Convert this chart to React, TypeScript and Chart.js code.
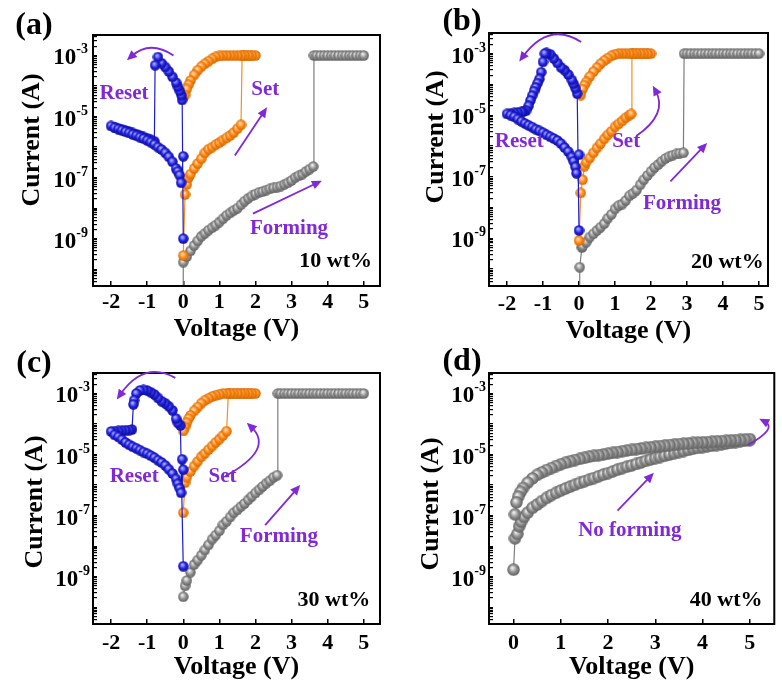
import React, { useEffect, useRef } from "react";
import { Chart, registerables } from "chart.js";

Chart.register(...registerables);

type Pt = [number, number];

// ================= DATA (voltage V, current A) =================
// ---- (a) 10 wt% ----
const aForming: Pt[] = [
  [0, 1e-12], [0, 1.7e-10], [0.1, 2.6e-10], [0.2, 4.0e-10], [0.3, 6.0e-10], [0.4, 8.5e-10], [0.5, 1.2e-9],
  [0.6, 1.5e-9], [0.7, 1.9e-9], [0.8, 2.3e-9], [0.9, 2.8e-9], [1.0, 3.5e-9], [1.1, 4.5e-9], [1.2, 5.8e-9],
  [1.3, 7.0e-9], [1.4, 8.5e-9], [1.5, 1.0e-8], [1.6, 1.3e-8], [1.7, 1.7e-8], [1.8, 2.1e-8], [1.9, 2.5e-8],
  [2.0, 2.9e-8], [2.1, 3.3e-8], [2.2, 3.5e-8], [2.3, 3.9e-8], [2.4, 4.3e-8], [2.5, 4.6e-8], [2.6, 4.9e-8],
  [2.7, 5.3e-8], [2.8, 6.0e-8], [2.9, 6.8e-8], [3.0, 8.0e-8], [3.1, 1.0e-7], [3.2, 1.15e-7], [3.3, 1.3e-7],
  [3.4, 1.6e-7], [3.5, 1.9e-7], [3.6, 2.3e-7],
  [3.62, 1e-3], [3.7, 1e-3], [3.8, 1e-3], [3.9, 1e-3], [4.0, 1e-3], [4.1, 1e-3], [4.2, 1e-3], [4.3, 1e-3],
  [4.4, 1e-3], [4.5, 1e-3], [4.6, 1e-3], [4.7, 1e-3], [4.8, 1e-3], [4.9, 1e-3], [5.0, 1e-3],
];
const aSet: Pt[] = [
  [0, 2.8e-10], [0.05, 2.8e-8], [0.1, 6e-8], [0.15, 1e-7], [0.2, 1.3e-7], [0.3, 2e-7], [0.4, 2.9e-7],
  [0.5, 4.2e-7], [0.6, 6.5e-7], [0.7, 8.5e-7], [0.8, 1.0e-6], [0.9, 1.2e-6], [1.0, 1.4e-6], [1.1, 1.7e-6],
  [1.2, 2.0e-6], [1.3, 2.4e-6], [1.4, 3.0e-6], [1.5, 4.0e-6], [1.6, 5.4e-6],
  [1.63, 1e-3], [1.7, 1e-3], [1.8, 1e-3], [1.9, 1e-3], [2.0, 1e-3],
  [1.9, 1e-3], [1.8, 1e-3], [1.7, 1e-3], [1.6, 1e-3], [1.5, 1e-3], [1.4, 1e-3], [1.3, 1e-3], [1.2, 1e-3],
  [1.1, 1e-3], [1.0, 9.6e-4], [0.9, 9e-4], [0.8, 7.8e-4], [0.7, 6.5e-4], [0.6, 5.4e-4], [0.5, 4.3e-4],
  [0.4, 3.3e-4], [0.3, 2.3e-4], [0.2, 1.5e-4], [0.15, 1.1e-4], [0.1, 8e-5], [0.05, 5e-5],
];
const aReset: Pt[] = [
  [0, 1e-9], [-0.03, 3.5e-5], [-0.05, 5e-5], [-0.1, 7e-5], [-0.15, 9.5e-5], [-0.2, 1.3e-4], [-0.3, 2e-4],
  [-0.4, 3e-4], [-0.5, 4.2e-4], [-0.6, 5.6e-4], [-0.7, 8.9e-4], [-0.78, 4.8e-4],
  [-0.8, 1.55e-6], [-0.9, 1.75e-6], [-1.0, 1.95e-6], [-1.1, 2.15e-6], [-1.2, 2.4e-6], [-1.3, 2.65e-6],
  [-1.4, 2.9e-6], [-1.5, 3.2e-6], [-1.6, 3.5e-6], [-1.7, 3.8e-6], [-1.8, 4.1e-6], [-1.9, 4.5e-6], [-2.0, 4.9e-6],
  [-1.9, 4.3e-6], [-1.8, 3.9e-6], [-1.7, 3.55e-6], [-1.6, 3.2e-6], [-1.5, 2.9e-6], [-1.4, 2.6e-6],
  [-1.3, 2.35e-6], [-1.2, 2.1e-6], [-1.1, 1.9e-6], [-1.0, 1.66e-6], [-0.9, 1.45e-6], [-0.8, 1.23e-6],
  [-0.7, 1.0e-6], [-0.6, 8.3e-7], [-0.5, 6.5e-7], [-0.4, 4.8e-7], [-0.3, 3.3e-7], [-0.2, 2.0e-7],
  [-0.15, 1.6e-7], [-0.1, 1.2e-7], [-0.06, 6.8e-8], [0, 5e-7],
];

// ---- (b) 20 wt% ----
const bForming: Pt[] = [
  [0, 1e-12], [0.02, 1.15e-10], [0.08, 5e-10], [0.1, 5.5e-10], [0.2, 7.5e-10], [0.3, 1.1e-9], [0.4, 1.4e-9],
  [0.5, 1.8e-9], [0.6, 2.3e-9], [0.7, 3.0e-9], [0.8, 4.5e-9], [0.9, 6e-9], [1.0, 9e-9], [1.1, 1.15e-8],
  [1.2, 1.3e-8], [1.3, 1.7e-8], [1.4, 2.4e-8], [1.5, 2.9e-8], [1.6, 3.7e-8], [1.7, 5.5e-8], [1.8, 8e-8],
  [1.9, 1.1e-7], [2.0, 1.5e-7], [2.1, 2e-7], [2.2, 2.5e-7], [2.3, 3.2e-7], [2.4, 3.9e-7], [2.5, 4.5e-7],
  [2.6, 5e-7], [2.7, 5.5e-7], [2.8, 5.8e-7], [2.9, 6e-7],
  [2.92, 1e-3], [3.0, 1e-3], [3.1, 1e-3], [3.2, 1e-3], [3.3, 1e-3], [3.4, 1e-3], [3.5, 1e-3], [3.6, 1e-3],
  [3.7, 1e-3], [3.8, 1e-3], [3.9, 1e-3], [4.0, 1e-3], [4.1, 1e-3], [4.2, 1e-3], [4.3, 1e-3], [4.4, 1e-3],
  [4.5, 1e-3], [4.6, 1e-3], [4.7, 1e-3], [4.8, 1e-3], [4.9, 1e-3], [5.0, 1e-3],
];
const bSet: Pt[] = [
  [0, 8.5e-10], [0.05, 3e-8], [0.1, 8e-8], [0.15, 2.2e-7], [0.2, 3e-7], [0.3, 4.1e-7], [0.4, 6e-7],
  [0.5, 8.7e-7], [0.6, 1.2e-6], [0.7, 1.7e-6], [0.8, 2.3e-6], [0.9, 3.0e-6], [1.0, 4.2e-6], [1.1, 5.2e-6],
  [1.2, 6.5e-6], [1.3, 8.3e-6], [1.4, 1.0e-5], [1.45, 1.1e-5],
  [1.47, 1e-3], [1.5, 1e-3], [1.6, 1e-3], [1.7, 1e-3], [1.8, 1e-3], [1.9, 1e-3], [2.0, 1e-3],
  [1.9, 1e-3], [1.8, 1e-3], [1.7, 1e-3], [1.6, 1e-3], [1.5, 1e-3], [1.4, 1e-3], [1.3, 1e-3], [1.2, 1e-3],
  [1.1, 1e-3], [1.0, 9.5e-4], [0.9, 8.5e-4], [0.8, 7.2e-4], [0.7, 5.9e-4], [0.6, 4.7e-4], [0.5, 3.5e-4],
  [0.4, 2.6e-4], [0.3, 1.8e-4], [0.2, 1.2e-4], [0.15, 9.5e-5], [0.1, 7e-5], [0.05, 4.5e-5],
];
const bReset: Pt[] = [
  [0, 1.8e-9], [-0.05, 5e-5], [-0.1, 7.6e-5], [-0.15, 1.05e-4], [-0.2, 1.4e-4], [-0.3, 2.1e-4],
  [-0.4, 2.9e-4], [-0.5, 3.6e-4], [-0.6, 5e-4], [-0.7, 7e-4], [-0.8, 9.5e-4], [-0.9, 1.05e-3], [-0.95, 1.0e-3],
  [-1.0, 5.4e-4], [-1.05, 2.5e-4], [-1.1, 1.5e-4], [-1.15, 1.1e-4], [-1.2, 8e-5], [-1.25, 6e-5],
  [-1.3, 4.3e-5], [-1.35, 3e-5], [-1.4, 2e-5], [-1.47, 1.4e-5],
  [-1.55, 1.3e-5], [-1.6, 1.27e-5], [-1.7, 1.22e-5], [-1.8, 1.18e-5], [-1.9, 1.14e-5], [-2.0, 1.1e-5],
  [-1.9, 1.0e-5], [-1.8, 8.9e-6], [-1.7, 7.5e-6], [-1.6, 6.3e-6], [-1.5, 5.4e-6], [-1.4, 4.7e-6],
  [-1.3, 4.1e-6], [-1.2, 3.5e-6], [-1.1, 3.1e-6], [-1.0, 2.7e-6], [-0.9, 2.3e-6], [-0.8, 2.0e-6],
  [-0.7, 1.75e-6], [-0.6, 1.5e-6], [-0.5, 1.2e-6], [-0.4, 8.9e-7], [-0.3, 6.6e-7], [-0.2, 4.4e-7],
  [-0.15, 3.2e-7], [-0.1, 2.1e-7], [-0.07, 1.3e-7], [0, 5.2e-7],
];

// ---- (c) 30 wt% ----
const cForming: Pt[] = [
  [0, 2.2e-10], [0.05, 5e-10], [0.1, 7.5e-10], [0.2, 1.4e-9], [0.3, 2.5e-9], [0.4, 3.5e-9], [0.5, 5e-9],
  [0.6, 7.5e-9], [0.7, 1.1e-8], [0.8, 1.7e-8], [0.9, 2.3e-8], [1.0, 3.2e-8], [1.1, 5e-8], [1.2, 6.5e-8],
  [1.3, 9e-8], [1.4, 1.25e-7], [1.5, 1.55e-7], [1.6, 2e-7], [1.7, 2.5e-7], [1.8, 3.3e-7], [1.9, 4.3e-7],
  [2.0, 5.5e-7], [2.1, 7e-7], [2.2, 9e-7], [2.3, 1.15e-6], [2.4, 1.4e-6], [2.5, 1.8e-6], [2.6, 2.1e-6],
  [2.62, 1e-3], [2.7, 1e-3], [2.8, 1e-3], [2.9, 1e-3], [3.0, 1e-3], [3.1, 1e-3], [3.2, 1e-3], [3.3, 1e-3],
  [3.4, 1e-3], [3.5, 1e-3], [3.6, 1e-3], [3.7, 1e-3], [3.8, 1e-3], [3.9, 1e-3], [4.0, 1e-3], [4.1, 1e-3],
  [4.2, 1e-3], [4.3, 1e-3], [4.4, 1e-3], [4.5, 1e-3], [4.6, 1e-3], [4.7, 1e-3], [4.8, 1e-3], [4.9, 1e-3],
  [5.0, 1e-3],
];
const cSet: Pt[] = [
  [0, 1.25e-7], [0.05, 1.2e-6], [0.1, 1.8e-6], [0.2, 2.8e-6], [0.3, 4.2e-6], [0.4, 6e-6], [0.5, 8.5e-6],
  [0.6, 1.1e-5], [0.7, 1.45e-5], [0.8, 1.9e-5], [0.9, 2.5e-5], [1.0, 3.2e-5], [1.1, 4.2e-5], [1.2, 5.8e-5],
  [1.25, 1e-3], [1.3, 1e-3], [1.4, 1e-3], [1.5, 1e-3], [1.6, 1e-3], [1.7, 1e-3], [1.8, 1e-3], [1.9, 1e-3],
  [2.0, 1e-3],
  [1.9, 1e-3], [1.8, 1e-3], [1.7, 1e-3], [1.6, 1e-3], [1.5, 1e-3], [1.4, 1e-3], [1.3, 1e-3], [1.2, 1e-3],
  [1.1, 1e-3], [1.0, 9.4e-4], [0.9, 8.7e-4], [0.8, 8e-4], [0.7, 7e-4], [0.6, 6e-4], [0.5, 4.8e-4],
  [0.4, 3.6e-4], [0.3, 2.7e-4], [0.2, 1.9e-4], [0.15, 1.5e-4], [0.1, 1.1e-4], [0.05, 8e-5], [0, 5.9e-5],
];
const cReset: Pt[] = [
  [0, 2.2e-9], [-0.08, 9e-5], [-0.15, 1.1e-4], [-0.2, 1.5e-4], [-0.3, 2.8e-4], [-0.4, 3.8e-4],
  [-0.5, 4.8e-4], [-0.6, 5.6e-4], [-0.7, 7.2e-4], [-0.8, 9.3e-4], [-0.9, 1.1e-3], [-1.0, 1.25e-3],
  [-1.1, 1.3e-3], [-1.2, 1.25e-3], [-1.3, 1e-3], [-1.36, 6e-4], [-1.38, 4.4e-4],
  [-1.42, 6.6e-5], [-1.5, 6.3e-5], [-1.6, 6.2e-5], [-1.7, 6e-5], [-1.8, 5.9e-5], [-1.9, 5.8e-5], [-2.0, 5.7e-5],
  [-1.9, 4.4e-5], [-1.8, 3.8e-5], [-1.7, 3.1e-5], [-1.6, 2.5e-5], [-1.5, 2.1e-5], [-1.4, 1.8e-5],
  [-1.3, 1.6e-5], [-1.2, 1.4e-5], [-1.1, 1.2e-5], [-1.0, 1.07e-5], [-0.9, 9.2e-6], [-0.8, 7.9e-6],
  [-0.7, 6.5e-6], [-0.6, 5.5e-6], [-0.5, 4.4e-6], [-0.4, 3.3e-6], [-0.3, 2.4e-6], [-0.2, 1.6e-6],
  [-0.15, 1.1e-6], [-0.1, 7.9e-7], [-0.06, 5.6e-7], [0, 3.2e-6], [-0.03, 7e-6],
];

// ---- (d) 40 wt% ----
const dSweep: Pt[] = [
  [0, 1.7e-9], [0.03, 1.8e-8], [0.08, 2.5e-8], [0.12, 4.5e-8], [0.16, 6.3e-8], [0.22, 9e-8], [0.3, 1.25e-7],
  [0.4, 1.8e-7], [0.5, 2.3e-7], [0.6, 3e-7], [0.7, 3.8e-7], [0.8, 4.7e-7], [0.9, 5.6e-7], [1.0, 6.6e-7],
  [1.1, 7.7e-7], [1.2, 8.9e-7], [1.3, 1.02e-6], [1.4, 1.17e-6], [1.5, 1.33e-6], [1.6, 1.5e-6], [1.7, 1.7e-6],
  [1.8, 1.95e-6], [1.9, 2.2e-6], [2.0, 2.45e-6], [2.1, 2.8e-6], [2.2, 3.2e-6], [2.3, 3.6e-6], [2.4, 4.0e-6],
  [2.5, 4.4e-6], [2.6, 4.9e-6], [2.7, 5.5e-6], [2.8, 6.2e-6], [2.9, 6.9e-6], [3.0, 7.6e-6], [3.1, 8.3e-6],
  [3.2, 9.1e-6], [3.3, 1.0e-5], [3.4, 1.1e-5], [3.5, 1.2e-5], [3.6, 1.3e-5], [3.7, 1.42e-5], [3.8, 1.55e-5],
  [3.9, 1.65e-5], [4.0, 1.75e-5], [4.1, 1.85e-5], [4.2, 1.95e-5], [4.3, 2.05e-5], [4.4, 2.15e-5],
  [4.5, 2.3e-5], [4.6, 2.4e-5], [4.7, 2.55e-5], [4.8, 2.7e-5], [4.9, 2.85e-5], [5.0, 2.95e-5],
  [5.0, 3.2e-5], [4.9, 3.1e-5], [4.8, 3.0e-5], [4.7, 2.95e-5], [4.6, 2.9e-5], [4.5, 2.8e-5], [4.4, 2.75e-5],
  [4.3, 2.7e-5], [4.2, 2.6e-5], [4.1, 2.55e-5], [4.0, 2.5e-5], [3.9, 2.45e-5], [3.8, 2.4e-5], [3.7, 2.3e-5],
  [3.6, 2.25e-5], [3.5, 2.2e-5], [3.4, 2.1e-5], [3.3, 2.05e-5], [3.2, 1.95e-5], [3.1, 1.9e-5], [3.0, 1.8e-5],
  [2.9, 1.72e-5], [2.8, 1.65e-5], [2.7, 1.58e-5], [2.6, 1.5e-5], [2.5, 1.42e-5], [2.4, 1.35e-5],
  [2.3, 1.28e-5], [2.2, 1.2e-5], [2.1, 1.13e-5], [2.0, 1.07e-5], [1.9, 1.0e-5], [1.8, 9.5e-6], [1.7, 9e-6],
  [1.6, 8.5e-6], [1.5, 7.8e-6], [1.4, 7.2e-6], [1.3, 6.6e-6], [1.2, 6e-6], [1.1, 5.4e-6], [1.0, 4.8e-6],
  [0.9, 4.2e-6], [0.8, 3.6e-6], [0.7, 3.1e-6], [0.6, 2.6e-6], [0.5, 2.15e-6], [0.4, 1.65e-6], [0.3, 1.2e-6],
  [0.2, 8e-7], [0.15, 6e-7], [0.1, 4.2e-7], [0.06, 2.7e-7], [0.03, 1.1e-7],
];

// ---- axes / labels ----
const xTicksFull = [-2, -1, 0, 1, 2, 3, 4, 5];
const xTicksPositive = [0, 1, 2, 3, 4, 5];
const yLabelExponents = [-3, -5, -7, -9];
const panelLetters = ["(a)", "(b)", "(c)", "(d)"];
const concentrations = ["10 wt%", "20 wt%", "30 wt%", "40 wt%"];
const xTitle = "Voltage (V)";
const yTitle = "Current (A)";

// ================= STYLE / LAYOUT =================
const FONT = "'Liberation Serif', 'Times New Roman', Times, serif";
const PURPLE = "#8128d9";
const Y_MIN = Math.pow(10, -10.55);
const Y_MAX = Math.pow(10, -2.33);

type Kind = "blue" | "orange" | "gray";
const STYLE: Record<Kind, { base: string; light: string; dark: string; line: string }> = {
  blue: { base: "#2222e6", light: "#b0b0ff", dark: "#0a0a90", line: "#1c1cd0" },
  orange: { base: "#ff8a14", light: "#ffdcb4", dark: "#d26400", line: "#f29020" },
  gray: { base: "#8e8e8e", light: "#efefef", dark: "#5c5c5c", line: "#7d7d7d" },
};

interface Arrow { from: Pt; via?: Pt; to: Pt }
interface PanelDef {
  letter: string;
  wt: string;
  wtAt: Pt;
  series: { pts: Pt[]; kind: Kind }[];
  xMin: number;
  xMax: number;
  xTicks: number[];
  box: { left: number; top: number; w: number; h: number };
  area: { left: number; top: number; right: number; bottom: number };
  xTickPad: number;
  xTitlePad: number;
  yLabelRight: number;
  letterPos: Pt;
  yTitlePos: Pt;
  marker: number;
  texts: { text: string; at: Pt }[];
  arrows: Arrow[];
}

const panels: PanelDef[] = [
  {
    letter: panelLetters[0], wt: concentrations[0], wtAt: [5.23, -9.75],
    series: [{ pts: aReset, kind: "blue" }, { pts: aSet, kind: "orange" }, { pts: aForming, kind: "gray" }],
    xMin: -2.5, xMax: 5.45, xTicks: xTicksFull,
    box: { left: 0, top: 0, w: 391, h: 352 },
    area: { left: 93, top: 35, right: 380, bottom: 286 },
    xTickPad: 8, xTitlePad: 7, yLabelRight: 88,
    letterPos: [34, 26], yTitlePos: [32, 140], marker: 11,
    texts: [
      { text: "Reset", at: [-1.64, -4.25] },
      { text: "Set", at: [2.27, -4.11] },
      { text: "Forming", at: [2.93, -8.67] },
    ],
    arrows: [
      { from: [-0.27, -3.0], via: [-0.92, -2.78], to: [-1.56, -3.16] },
      { from: [1.43, -6.28], to: [2.32, -4.7] },
      { from: [1.93, -8.18], to: [3.84, -7.1] },
    ],
  },
  {
    letter: panelLetters[1], wt: concentrations[1], wtAt: [5.13, -9.77],
    series: [{ pts: bReset, kind: "blue" }, { pts: bSet, kind: "orange" }, { pts: bForming, kind: "gray" }],
    xMin: -2.5, xMax: 5.25, xTicks: xTicksFull,
    box: { left: 391, top: 0, w: 391, h: 352 },
    area: { left: 98, top: 33, right: 377, bottom: 286 },
    xTickPad: 10, xTitlePad: 5, yLabelRight: 95,
    letterPos: [71, 22], yTitlePos: [45, 137], marker: 11,
    texts: [
      { text: "Reset", at: [-1.66, -5.87] },
      { text: "Set", at: [1.31, -5.87] },
      { text: "Forming", at: [2.86, -7.87] },
    ],
    arrows: [
      { from: [0.06, -2.62], via: [-0.82, -2.44], to: [-1.66, -3.26] },
      { from: [1.59, -5.68], via: [2.15, -4.91], to: [2.05, -4.04] },
      { from: [2.54, -7.15], to: [3.56, -5.9] },
    ],
  },
  {
    letter: panelLetters[2], wt: concentrations[2], wtAt: [5.18, -9.76],
    series: [{ pts: cReset, kind: "blue" }, { pts: cSet, kind: "orange" }, { pts: cForming, kind: "gray" }],
    xMin: -2.5, xMax: 5.45, xTicks: xTicksFull,
    box: { left: 0, top: 344, w: 391, h: 344 },
    area: { left: 93, top: 29, right: 380, bottom: 280 },
    xTickPad: 11, xTitlePad: 5, yLabelRight: 90,
    letterPos: [34, 20], yTitlePos: [35, 158], marker: 11,
    texts: [
      { text: "Reset", at: [-1.36, -5.73] },
      { text: "Set", at: [1.09, -5.73] },
      { text: "Forming", at: [2.65, -7.7] },
    ],
    arrows: [
      { from: [-0.22, -2.49], via: [-1.06, -2.38], to: [-1.84, -3.2] },
      { from: [1.16, -5.71], via: [2.0, -4.83], to: [1.76, -3.96] },
      { from: [2.27, -7.31], to: [3.24, -6.0] },
    ],
  },
  {
    letter: panelLetters[3], wt: concentrations[3], wtAt: [5.27, -9.79],
    series: [{ pts: dSweep, kind: "gray" }],
    xMin: -0.52, xMax: 5.52, xTicks: xTicksPositive,
    box: { left: 391, top: 344, w: 391, h: 344 },
    area: { left: 98, top: 29, right: 387, bottom: 280 },
    xTickPad: 11, xTitlePad: 5, yLabelRight: 95,
    letterPos: [71, 18], yTitlePos: [40, 160], marker: 13,
    texts: [{ text: "No forming", at: [2.46, -7.48] }],
    arrows: [
      { from: [2.2, -6.84], to: [2.97, -5.6] },
      { from: [4.96, -4.69], via: [5.34, -4.2], to: [5.2, -3.83] },
    ],
  },
];

function makeSphere(kind: Kind, d: number): HTMLCanvasElement {
  const c = document.createElement("canvas");
  c.width = d;
  c.height = d;
  const g = c.getContext("2d")!;
  const r = d / 2;
  const s = STYLE[kind];
  const grad = g.createRadialGradient(r * 0.8, r * 0.7, r * 0.08, r, r, r);
  grad.addColorStop(0, s.light);
  grad.addColorStop(0.55, s.base);
  grad.addColorStop(1, s.dark);
  g.fillStyle = grad;
  g.beginPath();
  g.arc(r, r, r - 0.3, 0, Math.PI * 2);
  g.fill();
  return c;
}

function drawArrow(ctx: CanvasRenderingContext2D, P: (p: Pt) => { x: number; y: number }, a: Arrow) {
  const s = P(a.from);
  const e = P(a.to);
  ctx.save();
  ctx.strokeStyle = PURPLE;
  ctx.fillStyle = PURPLE;
  ctx.lineWidth = 1.8;
  let ang: number;
  const L = 10;
  ctx.beginPath();
  ctx.moveTo(s.x, s.y);
  if (a.via) {
    const m = P(a.via);
    const cx = 2 * m.x - (s.x + e.x) / 2;
    const cy = 2 * m.y - (s.y + e.y) / 2;
    ang = Math.atan2(e.y - cy, e.x - cx);
    const ex = e.x - Math.cos(ang) * L * 0.6;
    const ey = e.y - Math.sin(ang) * L * 0.6;
    ctx.quadraticCurveTo(cx, cy, ex, ey);
  } else {
    ang = Math.atan2(e.y - s.y, e.x - s.x);
    ctx.lineTo(e.x - Math.cos(ang) * L * 0.6, e.y - Math.sin(ang) * L * 0.6);
  }
  ctx.stroke();
  const W = 4.5;
  const bx = e.x - Math.cos(ang) * L;
  const by = e.y - Math.sin(ang) * L;
  ctx.beginPath();
  ctx.moveTo(e.x, e.y);
  ctx.lineTo(bx + Math.sin(ang) * W, by - Math.cos(ang) * W);
  ctx.lineTo(bx - Math.sin(ang) * W, by + Math.cos(ang) * W);
  ctx.closePath();
  ctx.fill();
  ctx.restore();
}

function Panel({ def }: { def: PanelDef }) {
  const ref = useRef<HTMLCanvasElement>(null);
  useEffect(() => {
    const canvas = ref.current!;
    const sprites: Record<Kind, HTMLCanvasElement> = {
      blue: makeSphere("blue", def.marker),
      orange: makeSphere("orange", def.marker),
      gray: makeSphere("gray", def.marker),
    };
    const { box, area } = def;

    const decorations = {
      id: "decorations" + def.letter,
      afterDraw(chart: any) {
        const ctx: CanvasRenderingContext2D = chart.ctx;
        const xs = chart.scales.x;
        const ys = chart.scales.y;
        const P = (p: Pt) => ({ x: xs.getPixelForValue(p[0]), y: ys.getPixelForValue(Math.pow(10, p[1])) });
        const ca = chart.chartArea;
        ctx.save();
        ctx.strokeStyle = "#000";
        ctx.lineWidth = 2;
        ctx.strokeRect(ca.left, ca.top, ca.right - ca.left, ca.bottom - ca.top);
        ctx.fillStyle = "#000";
        for (const e of yLabelExponents) {
          const py = ys.getPixelForValue(Math.pow(10, e));
          const exp = String(e);
          ctx.font = `bold 14px ${FONT}`;
          const ew = ctx.measureText(exp).width;
          ctx.textAlign = "left";
          ctx.textBaseline = "alphabetic";
          ctx.fillText(exp, def.yLabelRight - ew, py - 2);
          ctx.font = `bold 23px ${FONT}`;
          ctx.textAlign = "right";
          ctx.fillText("10", def.yLabelRight - ew, py + 9);
        }
        ctx.save();
        ctx.translate(def.yTitlePos[0], def.yTitlePos[1]);
        ctx.rotate(-Math.PI / 2);
        ctx.font = `bold 26px ${FONT}`;
        ctx.textAlign = "center";
        ctx.textBaseline = "middle";
        ctx.fillText(yTitle, 0, 0);
        ctx.restore();
        ctx.font = `bold 32px ${FONT}`;
        ctx.textAlign = "center";
        ctx.textBaseline = "middle";
        ctx.fillText(def.letter, def.letterPos[0], def.letterPos[1]);
        const w = P(def.wtAt);
        ctx.font = `bold 22px ${FONT}`;
        ctx.textAlign = "right";
        ctx.fillText(def.wt, w.x, w.y);
        ctx.fillStyle = PURPLE;
        ctx.font = `bold 21px ${FONT}`;
        ctx.textAlign = "center";
        for (const t of def.texts) {
          const p = P(t.at);
          ctx.fillText(t.text, p.x, p.y);
        }
        for (const a of def.arrows) drawArrow(ctx, P, a);
        ctx.restore();
      },
    };

    const chart = new Chart(canvas, {
      type: "scatter",
      data: {
        datasets: def.series.map((s) => ({
          data: s.pts.map(([x, y]) => ({ x, y })),
          showLine: true,
          borderColor: STYLE[s.kind].line,
          borderWidth: 1.2,
          backgroundColor: STYLE[s.kind].base,
          pointStyle: sprites[s.kind] as any,
          pointRadius: def.marker / 2,
          pointHoverRadius: def.marker / 2,
        })),
      },
      options: {
        responsive: false,
        animation: false,
        events: [],
        layout: { padding: { left: 0, top: area.top, right: box.w - area.right, bottom: 0 } },
        plugins: { legend: { display: false }, tooltip: { enabled: false } },
        scales: {
          x: {
            type: "linear",
            position: "bottom",
            min: def.xMin,
            max: def.xMax,
            afterBuildTicks: (s: any) => {
              s.ticks = def.xTicks.map((v) => ({ value: v }));
            },
            afterFit: (s: any) => {
              s.height = box.h - area.bottom;
            },
            grid: { drawOnChartArea: false, drawTicks: true, tickLength: -5, color: "#000", lineWidth: 1.5 },
            border: { display: false },
            ticks: {
              autoSkip: false,
              maxRotation: 0,
              padding: def.xTickPad,
              color: "#000",
              font: { family: FONT, size: 22, weight: "bold" },
              callback: (v: any) => String(v),
            },
            title: {
              display: true,
              text: xTitle,
              color: "#000",
              font: { family: FONT, size: 26, weight: "bold" },
              padding: { top: 0, bottom: def.xTitlePad },
            },
          },
          y: {
            type: "logarithmic",
            position: "left",
            min: Y_MIN,
            max: Y_MAX,
            afterBuildTicks: (s: any) => {
              const t: { value: number }[] = [];
              for (let e = -11; e <= -2; e++) {
                for (let m = 1; m <= 9; m++) {
                  const v = m * Math.pow(10, e);
                  if (v >= s.min && v <= s.max) t.push({ value: v });
                }
              }
              s.ticks = t;
            },
            afterFit: (s: any) => {
              s.width = area.left;
            },
            grid: { drawOnChartArea: false, drawTicks: true, tickLength: -4, color: "#000", lineWidth: 1.2 },
            border: { display: false },
            ticks: { display: false, autoSkip: false },
          },
        },
      } as any,
      plugins: [decorations],
    });
    return () => chart.destroy();
  }, [def]);

  return (
    <canvas
      ref={ref}
      width={def.box.w}
      height={def.box.h}
      style={{ position: "absolute", left: def.box.left, top: def.box.top, width: def.box.w, height: def.box.h }}
    />
  );
}

export default function App() {
  return (
    <div style={{ position: "absolute", left: 0, top: 0, width: 782, height: 688, background: "#fff", overflow: "hidden" }}>
      {panels.map((p) => (
        <Panel key={p.letter} def={p} />
      ))}
    </div>
  );
}
